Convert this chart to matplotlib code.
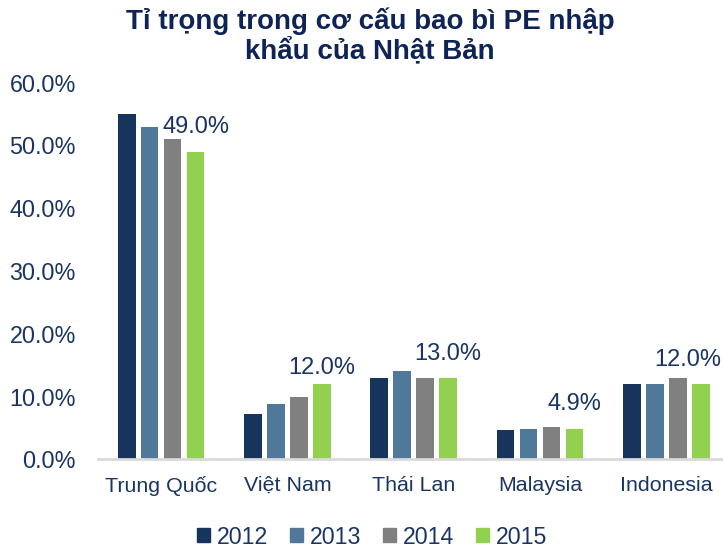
import matplotlib
matplotlib.use("Agg")
import matplotlib.pyplot as plt
from matplotlib.patches import Patch
from matplotlib.ticker import FuncFormatter
import numpy as np

countries = ["Trung Quốc", "Việt Nam", "Thái Lan", "Malaysia", "Indonesia"]
years = ["2012", "2013", "2014", "2015"]
share_2012 = [55.0, 7.2, 13.0, 4.7, 12.0]
share_2013 = [53.0, 8.8, 14.0, 4.8, 12.0]
share_2014 = [51.0, 10.0, 13.0, 5.2, 13.0]
share_2015 = [49.0, 12.0, 13.0, 4.9, 12.0]
title = "Tỉ trọng trong cơ cấu bao bì PE nhập\nkhẩu của Nhật Bản"

series = [share_2012, share_2013, share_2014, share_2015]
colors = ["#17345C", "#507899", "#808080", "#92D050"]
navy = "#1A3563"

plt.rcParams['font.family'] = ['Liberation Sans', 'DejaVu Sans']

fig = plt.figure(figsize=(7.23, 5.47), dpi=100)
ax = fig.add_axes([98/723, 1 - 459.4/547, 631.5/723, 376.8/547])

x = np.arange(len(countries))
pitch = 0.182
width = 0.14
for i, vals in enumerate(series):
    ax.bar(x + (i - 1.5) * pitch, vals, width, color=colors[i], label=years[i])

# only the 2015 bars carry labels (last one nudged left to stay inside)
label_dy = [9.5, 3.5, 9.5, 9.5, 9.5]
label_dx = [0, 0, 0, 0, -9.5]
for k, v in enumerate(share_2015):
    ax.annotate(f"{v:.1f}%", (x[k] + 1.5 * pitch, v), xytext=(label_dx[k], label_dy[k]),
                textcoords="offset points", ha="center", va="bottom",
                fontsize=17, color=navy)

ax.set_ylim(0, 60)
ax.set_xlim(-0.5, len(countries) - 0.5)
ax.set_yticks(np.arange(0, 61, 10))
ax.yaxis.set_major_formatter(FuncFormatter(lambda v, p: f"{v:.1f}%"))
ax.set_xticks(x)
ax.set_xticklabels(countries)
ax.tick_params(axis="y", length=0, pad=16, labelsize=16.8, labelcolor=navy)
ax.tick_params(axis="x", length=0, pad=12, labelsize=15.4, labelcolor=navy)
for s in ["left", "right", "top"]:
    ax.spines[s].set_visible(False)
ax.spines["bottom"].set_color("#D9D9D9")
ax.spines["bottom"].set_linewidth(2)

fig.text(0.512, 1 - 7/547, title, ha="center", va="top", fontsize=20,
         fontweight="bold", color="#0F2456", linespacing=1.12)

handles = [Patch(color=c, label=y) for c, y in zip(colors, years)]
fig.legend(handles=handles, loc="center", bbox_to_anchor=(372/723, 1 - 537/547),
           ncol=4, frameon=False, fontsize=16.7, labelcolor=navy,
           handlelength=0.55, handleheight=0.55, handletextpad=0.3, columnspacing=0.95)

fig.savefig("out.png", dpi=100)
